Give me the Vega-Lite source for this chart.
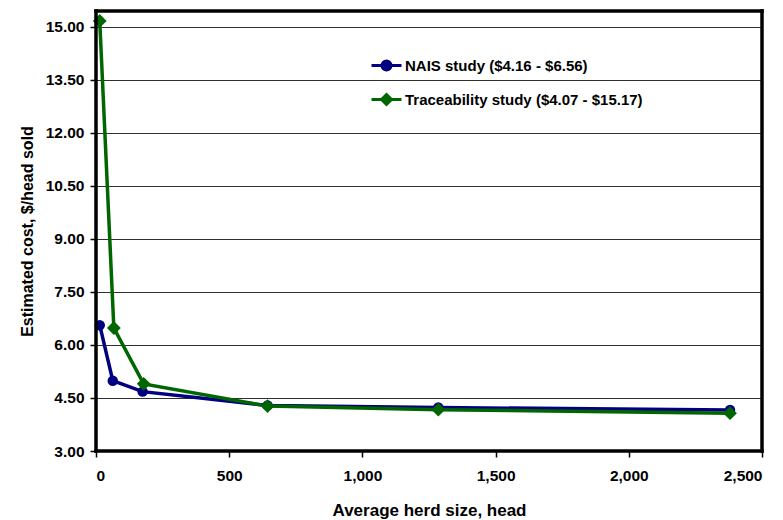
{
  "$schema": "https://vega.github.io/schema/vega-lite/v6.json",
  "width": 666,
  "height": 440,
  "autosize": {"type": "none"},
  "padding": {"left": 96, "top": 11, "right": 21, "bottom": 69},
  "background": "white",
  "config": {
    "font": "Liberation Sans",
    "view": {"stroke": null},
    "axis": {
      "labelFont": "Liberation Sans",
      "labelFontWeight": "bold",
      "labelFontSize": 15.5,
      "labelColor": "black",
      "titleFont": "Liberation Sans",
      "titleFontWeight": "bold",
      "titleFontSize": 16,
      "titleColor": "black",
      "domain": false,
      "tickColor": "black",
      "tickWidth": 1.5,
      "tickSize": 6
    }
  },
  "data": {
    "values": [
      {"series": "NAIS study ($4.16 - $6.56)", "herd": 14, "cost": 6.56},
      {"series": "NAIS study ($4.16 - $6.56)", "herd": 63, "cost": 4.99},
      {"series": "NAIS study ($4.16 - $6.56)", "herd": 175, "cost": 4.68},
      {"series": "NAIS study ($4.16 - $6.56)", "herd": 644, "cost": 4.29},
      {"series": "NAIS study ($4.16 - $6.56)", "herd": 1285, "cost": 4.23},
      {"series": "NAIS study ($4.16 - $6.56)", "herd": 2380, "cost": 4.16},
      {"series": "Traceability study ($4.07 - $15.17)", "herd": 14, "cost": 15.17},
      {"series": "Traceability study ($4.07 - $15.17)", "herd": 67, "cost": 6.48},
      {"series": "Traceability study ($4.07 - $15.17)", "herd": 179, "cost": 4.9},
      {"series": "Traceability study ($4.07 - $15.17)", "herd": 644, "cost": 4.27},
      {"series": "Traceability study ($4.07 - $15.17)", "herd": 1285, "cost": 4.17},
      {"series": "Traceability study ($4.07 - $15.17)", "herd": 2380, "cost": 4.07}
    ]
  },
  "encoding": {
    "x": {
      "field": "herd",
      "type": "quantitative",
      "scale": {"domain": [0, 2500], "nice": false, "zero": false},
      "axis": {
        "title": "Average herd size, head",
        "titleFontSize": 17,
        "format": ",.0f",
        "values": [0, 500, 1000, 1500, 2000, 2500],
        "grid": false,
        "labelPadding": 11,
        "titlePadding": 19
      }
    },
    "y": {
      "field": "cost",
      "type": "quantitative",
      "scale": {"domain": [3, 15.45], "nice": false, "zero": false},
      "axis": {
        "title": "Estimated cost, $/head sold",
        "format": ".2f",
        "values": [3, 4.5, 6, 7.5, 9, 10.5, 12, 13.5, 15],
        "grid": true,
        "gridColor": "#303030",
        "gridWidth": 1.2,
        "labelPadding": 6,
        "titlePadding": 10
      }
    }
  },
  "layer": [
    {
      "mark": {"type": "line", "strokeWidth": 3.5},
      "encoding": {
        "color": {
          "field": "series",
          "type": "nominal",
          "scale": {
            "domain": ["NAIS study ($4.16 - $6.56)", "Traceability study ($4.07 - $15.17)"],
            "range": ["#000080", "#006600"]
          },
          "legend": {
            "title": null,
            "orient": "none",
            "legendX": 274,
            "legendY": 38,
            "labelFont": "Liberation Sans",
            "labelFontSize": 15,
            "labelFontWeight": "bold",
            "labelColor": "black",
            "labelLimit": 400,
            "labelOffset": 2,
            "rowPadding": 7,
            "symbolSize": 900,
            "symbolStrokeWidth": 3,
            "encode": {
              "symbols": {
                "update": {
                  "shape": {"signal": "datum.value === 'NAIS study ($4.16 - $6.56)' ? 'M-1,0L1,0M-0.3,0A0.3,0.3 0 1,1 0.3,0A0.3,0.3 0 1,1 -0.3,0Z' : 'M-1,0L1,0M0,-0.33L0.33,0L0,0.33L-0.33,0Z'"},
                  "fill": {"signal": "scale('color', datum.value)"},
                  "stroke": {"signal": "scale('color', datum.value)"},
                  "strokeWidth": {"value": 3},
                  "opacity": {"value": 1}
                }
              }
            }
          }
        }
      }
    },
    {
      "mark": {"type": "point", "filled": true, "opacity": 1},
      "encoding": {
        "color": {"field": "series", "type": "nominal", "legend": null},
        "shape": {
          "field": "series",
          "type": "nominal",
          "scale": {
            "domain": ["NAIS study ($4.16 - $6.56)", "Traceability study ($4.07 - $15.17)"],
            "range": ["circle", "diamond"]
          },
          "legend": null
        },
        "size": {
          "field": "series",
          "type": "nominal",
          "scale": {
            "domain": ["NAIS study ($4.16 - $6.56)", "Traceability study ($4.07 - $15.17)"],
            "range": [110, 190]
          },
          "legend": null
        }
      }
    },
    {
      "data": {"values": [
        {"x0": 0, "x1": 0, "y0": 3, "y1": 15.45},
        {"x0": 2500, "x1": 2500, "y0": 3, "y1": 15.45},
        {"x0": 0, "x1": 2500, "y0": 3, "y1": 3},
        {"x0": 0, "x1": 2500, "y0": 15.45, "y1": 15.45}
      ]},
      "mark": {"type": "rule", "color": "#000000", "strokeWidth": 3.5, "strokeCap": "square"},
      "encoding": {
        "x": {"field": "x0", "type": "quantitative"},
        "x2": {"field": "x1"},
        "y": {"field": "y0", "type": "quantitative"},
        "y2": {"field": "y1"}
      }
    }
  ],
  "resolve": {"legend": {"color": "independent"}}
}
